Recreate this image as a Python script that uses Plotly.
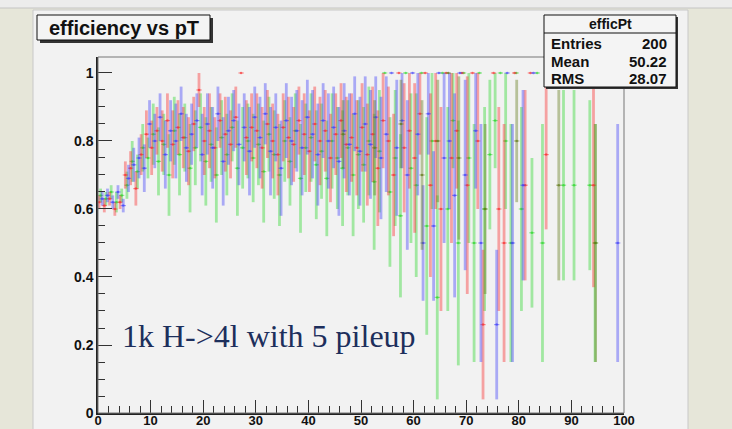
import plotly.graph_objects as go

# ---------------- data ----------------
pt_bins = [k + 0.5 for k in range(100)]   # bin centres, 1 GeV bins from 0 to 100

eff_red = [0.62, 0.61, 0.63, 0.60, 0.62,
           0.70, 0.72, 0.66, 0.76, 0.82,
           0.78, 0.83, 0.80, 0.86, 0.79, 0.84, 0.81, 0.77, 0.85, 0.95,
           0.80, 0.83, 0.78, 0.86, 0.82, 0.79, 0.87, 1.00, 0.81, 0.84,
           0.83, 0.78, 0.85, 0.80, 0.76, 0.84, 0.81, 0.79, 0.86, 0.82,
           0.77, 0.85, 0.80, 0.83, 0.75, 0.82, 0.86, 0.79, 0.81, 0.78,
           0.84, 0.76, 0.82, 0.72, 0.86, 0.80, 0.70, 1.00, 0.78, 0.83,
           0.75, 0.88, 1.00, 0.67, 0.80, 0.60, 1.00, 0.75, 0.83, 1.00,
           0.67, 1.00, 0.80, 0.26, None, 1.00, 0.60, 0.50, None, 1.00,
           None, 0.67, 1.00, None, None, 0.76, None, 1.00, None, None,
           1.00, None, None, None, 0.67, None, 1.00, None, None, None]
err_red = [0.02, 0.02, 0.02, 0.02, 0.02,
           0.04, 0.05, 0.05, 0.06, 0.07,
           0.08, 0.07, 0.09, 0.08, 0.10, 0.08, 0.09, 0.10, 0.08, 0.05,
           0.10, 0.11, 0.09, 0.08, 0.11, 0.10, 0.09, 0.00, 0.11, 0.10,
           0.11, 0.12, 0.10, 0.11, 0.12, 0.10, 0.12, 0.11, 0.10, 0.12,
           0.12, 0.11, 0.13, 0.12, 0.13, 0.12, 0.11, 0.14, 0.13, 0.14,
           0.13, 0.15, 0.14, 0.17, 0.14, 0.16, 0.18, 0.00, 0.19, 0.17,
           0.22, 0.12, 0.00, 0.27, 0.20, 0.30, 0.00, 0.25, 0.17, 0.00,
           0.32, 0.00, 0.20, 0.22, None, 0.00, 0.30, 0.35, None, 0.00,
           None, 0.28, 0.00, None, None, 0.22, None, 0.00, None, None,
           0.00, None, None, None, 0.30, None, 0.00, None, None, None]

eff_green = [0.64, 0.63, 0.65, 0.62, 0.64,
             0.67, 0.74, 0.71, 0.78, 0.75,
             0.82, 0.74, 0.79, 0.70, 0.83, 0.76, 0.81, 0.72, 0.78, 0.84,
             0.74, 0.79, 0.70, 0.81, 0.76, 0.84, 0.72, 0.78, 0.80, 0.75,
             0.79, 0.71, 0.82, 0.76, 0.70, 0.80, 0.74, 0.83, 0.69, 0.78,
             0.81, 0.73, 0.77, 0.69, 0.80, 0.75, 0.72, 0.78, 0.70, 0.76,
             0.73, 0.80, 0.68, 0.77, 1.00, 0.65, 0.75, 0.58, 1.00, 0.72,
             0.67, 1.00, 0.55, 0.80, 0.34, 1.00, 0.60, 0.86, 0.50, 1.00,
             0.75, 0.50, 1.00, 0.60, 0.76, 0.86, 1.00, 0.80, 0.50, 1.00,
             0.60, None, 0.53, 1.00, 0.50, None, 1.00, None, 0.67, None,
             0.67, 1.00, None, 0.67, 0.50, 1.00, None, None, 1.00, None]
err_green = [0.02, 0.02, 0.02, 0.03, 0.02,
             0.04, 0.06, 0.05, 0.07, 0.06,
             0.09, 0.10, 0.09, 0.12, 0.10, 0.12, 0.10, 0.13, 0.11, 0.10,
             0.13, 0.11, 0.14, 0.11, 0.12, 0.10, 0.14, 0.12, 0.11, 0.13,
             0.12, 0.15, 0.11, 0.13, 0.15, 0.12, 0.13, 0.11, 0.16, 0.13,
             0.13, 0.16, 0.14, 0.17, 0.14, 0.15, 0.17, 0.14, 0.18, 0.16,
             0.17, 0.16, 0.20, 0.18, 0.00, 0.22, 0.20, 0.24, 0.00, 0.22,
             0.27, 0.00, 0.32, 0.20, 0.30, 0.00, 0.30, 0.14, 0.36, 0.00,
             0.25, 0.35, 0.00, 0.30, 0.22, 0.14, 0.00, 0.20, 0.35, 0.00,
             0.30, None, 0.22, 0.00, 0.35, None, 0.00, None, 0.28, None,
             0.28, 0.00, None, 0.25, 0.35, 0.00, None, None, 0.00, None]

eff_blue = [0.63, 0.64, 0.62, 0.65, 0.61,
            0.69, 0.73, 0.75, 0.72, 0.85,
            0.80, 0.87, 0.76, 0.83, 0.80, 0.88, 0.78, 0.82, 0.86, 0.76,
            0.85, 0.78, 0.88, 0.74, 0.83, 0.86, 0.79, 0.84, 0.77, 0.87,
            0.81, 0.88, 0.77, 0.84, 0.72, 0.86, 0.80, 0.83, 0.78, 0.87,
            0.82, 0.76, 0.86, 0.80, 0.84, 0.74, 0.83, 0.79, 0.88, 0.77,
            0.85, 0.79, 0.87, 0.75, 0.82, 1.00, 0.78, 0.86, 0.70, 1.00,
            0.82, 0.50, 0.88, 0.55, 1.00, 0.75, 0.80, 0.64, 1.00, 0.70,
            None, 0.83, 0.50, None, None, 0.26, None, 1.00, 0.50, None,
            0.67, None, 1.00, None, None, None, 1.00, None, None, None,
            None, 1.00, None, None, None, None, None, None, 0.50, None]
err_blue = [0.02, 0.02, 0.02, 0.02, 0.02,
            0.04, 0.05, 0.06, 0.07, 0.07,
            0.08, 0.07, 0.10, 0.09, 0.11, 0.08, 0.10, 0.09, 0.08, 0.12,
            0.09, 0.12, 0.08, 0.13, 0.10, 0.09, 0.12, 0.10, 0.13, 0.09,
            0.12, 0.09, 0.13, 0.10, 0.14, 0.11, 0.13, 0.12, 0.14, 0.11,
            0.13, 0.15, 0.11, 0.14, 0.12, 0.16, 0.14, 0.15, 0.11, 0.16,
            0.14, 0.16, 0.12, 0.18, 0.17, 0.00, 0.20, 0.14, 0.22, 0.00,
            0.18, 0.17, 0.12, 0.22, 0.00, 0.25, 0.20, 0.30, 0.00, 0.28,
            None, 0.17, 0.35, None, None, 0.22, None, 0.00, 0.35, None,
            0.28, None, 0.00, None, None, None, 0.00, None, None, None,
            None, 0.00, None, None, None, None, None, None, 0.35, None]

# a darker olive sample seen mostly at high pT
pt_olive = [46.5, 52.5, 57.5, 61.5, 64.5, 66.5, 68.5, 73.5, 79.5, 87.5, 94.5]
eff_olive = [0.82, 0.78, 0.85, 0.70, 0.80, 1.00, 0.75, 0.60, 0.80, 0.67, 0.50]
err_olive = [0.10, 0.14, 0.13, 0.22, 0.18, 0.00, 0.24, 0.25, 0.18, 0.28, 0.35]

stats_labels = ["Entries", "Mean", "RMS"]
stats_values = ["200", "50.22", "28.07"]

# ---------------- figure ----------------
fig = go.Figure()

def add_series(xs, ys, es, rgb, dx):
    px, py, ep, em = [], [], [], []
    for x, y, e in zip(xs, ys, es):
        if y is None:
            continue
        px.append(x + dx)
        py.append(y)
        ep.append(min(e, 1.0 - y))
        em.append(min(e, y))
    fig.add_trace(go.Scatter(
        x=px, y=py, mode="markers",
        marker=dict(size=2.5, color=f"rgba({rgb},0.6)"),
        error_y=dict(type="data", symmetric=False, array=ep, arrayminus=em,
                     color=f"rgba({rgb},0.40)", thickness=2.8, width=0),
        error_x=dict(type="constant", value=0.5,
                     color=f"rgba({rgb},0.5)", thickness=1.2, width=0),
        showlegend=False, hoverinfo="skip"))

add_series(pt_bins, eff_green, err_green, "40,215,40", 0.0)
add_series(pt_bins, eff_red, err_red, "250,40,40", -0.3)
add_series(pt_bins, eff_blue, err_blue, "60,60,250", 0.3)
add_series(pt_olive, eff_olive, err_olive, "95,120,20", 0.1)

tick_font = dict(family="Liberation Sans", size=14, color="#111", weight="bold")
xtick_font = dict(family="Liberation Sans", size=13, color="#111", weight="bold")

L, R, T, B = 98, 624, 57, 413
W, H = R - L, B - T

fig.update_layout(
    width=732, height=429,
    margin=dict(l=L, r=732 - R, t=T, b=429 - B),
    paper_bgcolor="#e6e6d9",
    plot_bgcolor="#f2f2f2",
    xaxis=dict(range=[0, 100], tick0=0, dtick=10, ticks="inside", ticklen=13,
               tickcolor="#333", tickwidth=1, showgrid=False, zeroline=False,
               showline=True, linecolor="#222", linewidth=1.5,
               tickfont=xtick_font, automargin=False, ticklabelstandoff=-5,
               minor=dict(dtick=2, ticks="inside", ticklen=7, tickcolor="#333")),
    yaxis=dict(range=[0, 1.047], tick0=0, dtick=0.2, ticks="inside", ticklen=14,
               tickcolor="#333", tickwidth=1, showgrid=False, zeroline=False,
               showline=True, linecolor="#222", linewidth=1.5,
               tickfont=tick_font, automargin=False,
               minor=dict(dtick=0.05, ticks="inside", ticklen=7, tickcolor="#333")),
)

def px_x(p):
    return (p - L) / W

def px_y(p):
    return (B - p) / H

shapes = [
    # top strip of the page
    dict(type="rect", xref="paper", yref="paper", layer="below",
         x0=px_x(-5), x1=px_x(740), y0=px_y(8), y1=px_y(-5),
         fillcolor="#ececec", line=dict(color="#c4c4c4", width=1)),
    # canvas
    dict(type="rect", xref="paper", yref="paper", layer="below",
         x0=px_x(33), x1=px_x(688), y0=px_y(440), y1=px_y(10),
         fillcolor="#f2f2f2", line=dict(color="#c8c8c8", width=1)),
    # frame top / right
    dict(type="rect", xref="paper", yref="paper", layer="above",
         x0=0, x1=1, y0=0, y1=1, line=dict(color="#777", width=1)),
    # title box shadow + box
    dict(type="rect", xref="paper", yref="paper", layer="above",
         x0=px_x(40), x1=px_x(213), y0=px_y(43), y1=px_y(18),
         fillcolor="#333", line=dict(width=0)),
    dict(type="rect", xref="paper", yref="paper", layer="above",
         x0=px_x(37), x1=px_x(210), y0=px_y(40), y1=px_y(15),
         fillcolor="#f4f4f4", line=dict(color="#111", width=1)),
    # stats box shadow + box
    dict(type="rect", xref="paper", yref="paper", layer="above",
         x0=px_x(546), x1=px_x(678), y0=px_y(89), y1=px_y(17),
         fillcolor="#333", line=dict(width=0)),
    dict(type="rect", xref="paper", yref="paper", layer="above",
         x0=px_x(544), x1=px_x(676), y0=px_y(87), y1=px_y(15),
         fillcolor="#f4f4f4", line=dict(color="#111", width=1)),
    dict(type="line", xref="paper", yref="paper", layer="above",
         x0=px_x(544), x1=px_x(676), y0=px_y(33), y1=px_y(33),
         line=dict(color="#111", width=1)),
]
fig.update_layout(shapes=shapes)

ann = [
    dict(text="efficiency vs pT", x=px_x(123.5), y=px_y(27.5), xref="paper", yref="paper",
         showarrow=False, xanchor="center", yanchor="middle",
         font=dict(family="Liberation Sans", size=20, color="#111", weight="bold")),
    dict(text="efficPt", x=px_x(610), y=px_y(24), xref="paper", yref="paper",
         showarrow=False, xanchor="center", yanchor="middle",
         font=dict(family="Liberation Sans", size=14, color="#111", weight="bold")),
    dict(text="1k H-&gt;4l with 5 pileup", x=px_x(120), y=px_y(336), xref="paper", yref="paper",
         showarrow=False, xanchor="left", yanchor="middle",
         font=dict(family="Liberation Serif", size=32, color="#1d2f5c")),
]
row_y = [43, 61, 78]
for lab, val, ry in zip(stats_labels, stats_values, row_y):
    ann.append(dict(text=lab, x=px_x(549), y=px_y(ry), xref="paper", yref="paper",
                    showarrow=False, xanchor="left", yanchor="middle",
                    font=dict(family="Liberation Sans", size=15, color="#111", weight="bold")))
    ann.append(dict(text=val, x=px_x(669), y=px_y(ry), xref="paper", yref="paper",
                    showarrow=False, xanchor="right", yanchor="middle",
                    font=dict(family="Liberation Sans", size=15, color="#111", weight="bold")))
fig.update_layout(annotations=ann)

fig.write_html("out.html")
